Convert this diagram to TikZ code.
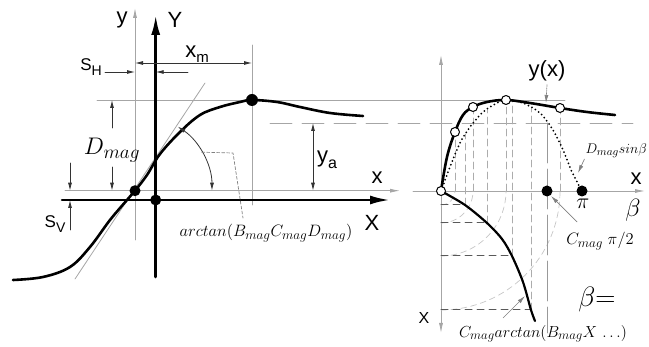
\RequirePackage{fix-cm}
\documentclass[tikz,border=0pt]{standalone}
\usepackage{fontspec}
\setsansfont{Liberation Sans}
\usetikzlibrary{arrows.meta}
\def\defaultscriptratio{.8}
\newcommand\lsub[2]{#1\raisebox{-0.3em}{\fontsize{#2}{#2}\selectfont}}
\begin{document}
\begin{tikzpicture}[x=1pt,y=-1pt,line join=round,line cap=round,>={Latex[length=8pt,width=4pt]},
	guide/.style={gray!70,line width=0.8pt},
	dim/.style={black!80,line width=0.8pt},
	curve/.style={line width=2.6pt},
	bigaxis/.style={line width=2.6pt,-{Latex[length=20pt,width=9pt]}},
	smallaxis/.style={gray!70,line width=0.8pt,-{Latex[length=10pt,width=4pt]}},
	lab/.style={font=\sffamily\fontsize{22}{24}\selectfont},
	labsmall/.style={font=\sffamily\fontsize{17}{19}\selectfont},
	mlab/.style={font=\fontsize{16.5}{19}\selectfont},
	leader/.style={gray,line width=0.7pt},
	hdash/.style={black!65,line width=1pt,dash pattern=on 7pt off 5pt},
	vdash/.style={gray!65,line width=0.7pt,dash pattern=on 7pt off 4pt},
	adash/.style={gray!45,line width=0.7pt,dash pattern=on 6pt off 4pt},
	opendot/.style={fill=white,draw=black,line width=1pt}]
	\useasboundingbox (0,0) rectangle (649,347);
	% left plot: guide lines
	\draw[guide] (97,100) -- (565,100);
	\draw[guide] (252,45) -- (252,205);
	\draw[guide] (75,279) -- (205,83);
	\draw[gray!70,line width=0.9pt,dash pattern=on 22pt off 10pt] (270,123) -- (633,123);
	\draw[smallaxis] (135,240) -- (135,8);
	\draw[smallaxis] (65,190.7) -- (400,190.7);
	\draw[bigaxis] (155.7,277) -- (155.7,15);
	\draw[bigaxis] (62,200) -- (390,200);
	\draw[curve] plot[smooth,tension=0.6] coordinates {(13,280) (43,277) (70,267) (90,247) (110,220) (127,200) (135,190.7) (147,175) (160,154) (180,132) (200,115) (220,107) (240,102) (252,100) (277,102) (300,107) (330,113) (363,116)};
	% dimensions
	\draw[dim,<->] (135,63) -- (252,63);
	\draw[dim,->] (105,72) -- (135,72);
	\draw[dim,->] (188,72) -- (155.7,72);
	\draw[dim,->] (112,128) -- (112,100);
	\draw[dim,->] (112,167) -- (112,190.7);
	\draw[dim,->] (70,163) -- (70,190.7);
	\draw[dim,->] (70,230) -- (70,200);
	\draw[dim,<->] (313,123) -- (313,190.7);
	\draw[dim,<->] (177.7,126.6) arc[start angle=-56.3,end angle=0,radius=77];
	\fill (135,190.7) circle[radius=5.5];
	\fill (155.7,200) circle[radius=5.5];
	\fill (252,100) circle[radius=6];
	\node[lab] (ly) at (122,20) {y};
	\node[lab] (lY) at (175,20) {Y};
	\node[lab] (lxm) at (197,54) {x\raisebox{-0.25em}{\fontsize{15}{15}\selectfont m}};
	\node[labsmall] (lsh) at (91,67) {S\raisebox{-0.3em}{\fontsize{14}{14}\selectfont H}};
	\node[font=\fontsize{24}{26}\selectfont] (ldmag) at (112,150) {$D_{mag}$};
	\node[labsmall] (lsv) at (55,224) {S\raisebox{-0.3em}{\fontsize{14}{14}\selectfont V}};
	\node[lab] (lya) at (327,160) {y\raisebox{-0.25em}{\fontsize{16}{16}\selectfont a}};
	\node[lab] (lx) at (377,178) {x};
	\node[lab] (lX) at (372,223) {X};
	\node[mlab] (larc) at (266,233) {$arctan(B_{mag}C_{mag}D_{mag})$};
	\draw[leader,densely dashed] (201.7,152.2) -- (233,153) -- (243,218);
	% right plot: construction lines
	\draw[smallaxis,{Latex[length=10pt,width=4pt]}-{Latex[length=10pt,width=4pt]}] (441,55) -- (441,333);
	\draw[smallaxis] (413,191) -- (645,191);
	\foreach \r in {14,32,65,119}
		\draw[adash] (441,191+\r) arc[start angle=90,end angle=0,radius=\r];
	\foreach \xa/\ya in {465/205,487/223,512/256,531/310}
		\draw[hdash] (441,\ya) -- (\xa,\ya);
	\foreach \xa/\ya/\yb in {465/205/134,487/223/110,512/256/101,531/310/108}
		\draw[vdash] (\xa,\ya) -- (\xa,\yb);
	\foreach \xa/\yb in {455/132,473/107,506/100,560/108}
		\draw[vdash] (\xa,191) -- (\xa,\yb);
	\draw[gray!80,line width=0.9pt,dash pattern=on 40pt off 6pt] (547,123) -- (547,333);
	% right plot: curves
	\draw[line width=2pt,dash pattern=on 0pt off 4pt] plot[smooth] coordinates {(441,191) (450,167) (460,143) (470,127) (483,112) (497,103) (506,100) (523,103) (540,113) (553,130) (563,150) (572,172) (582,191)};
	\draw[curve] plot[smooth,tension=0.6] coordinates {(441,191) (447,157) (455,132) (463,115) (473,107) (487,102) (506,100) (530,103) (560,108) (587,112) (615,115)};
	\draw[line width=2.2pt] plot[smooth] coordinates {(441,191) (465,205) (487,223) (502,239) (512,256) (523,282) (531,310) (535,321)};
	\fill (547,191) circle[radius=5.5];
	\fill (582,191) circle[radius=5.5];
	\foreach \xa/\ya in {441/191,455/132,473/107,506/100,560/108}
		\draw[opendot] (\xa,\ya) circle[radius=4.5];
	% right plot: labels
	\node[lab] (lyx) at (547,71) {y(x)};
	\node[font=\fontsize{14}{16}\selectfont,anchor=east,inner sep=1pt] (lsin) at (648,151) {$D_{mag}sin\beta$};
	\node[lab] (lxr) at (636,179) {x};
	\node[font=\fontsize{25}{27}\selectfont] (lbeta) at (633,210) {$\beta$};
	\node[font=\fontsize{22}{24}\selectfont] (lpi) at (583,204) {$\pi$};
	\node[mlab] (lcpi) at (600,241) {$C_{mag}\;\pi/2$};
	\node[font=\fontsize{28}{30}\selectfont] (lbeq) at (597,300) {$\beta$=};
	\node[mlab,font=\fontsize{16}{18}\selectfont] (lcarc) at (543,334) {$C_{mag}arctan(B_{mag}X\,\ldots)$};
	\node[font=\sffamily\fontsize{16}{18}\selectfont] (lXr) at (424,318) {X};
	\draw[leader,densely dotted,->] (lyx.south) -- (546,103);
	\draw[leader,->] (lsin.south west) -- (578,173);
	\draw[leader,->] (577,222) -- (551,196);
	\draw[leader,->] (503,318) -- (525,296);
\end{tikzpicture}
\end{document}
